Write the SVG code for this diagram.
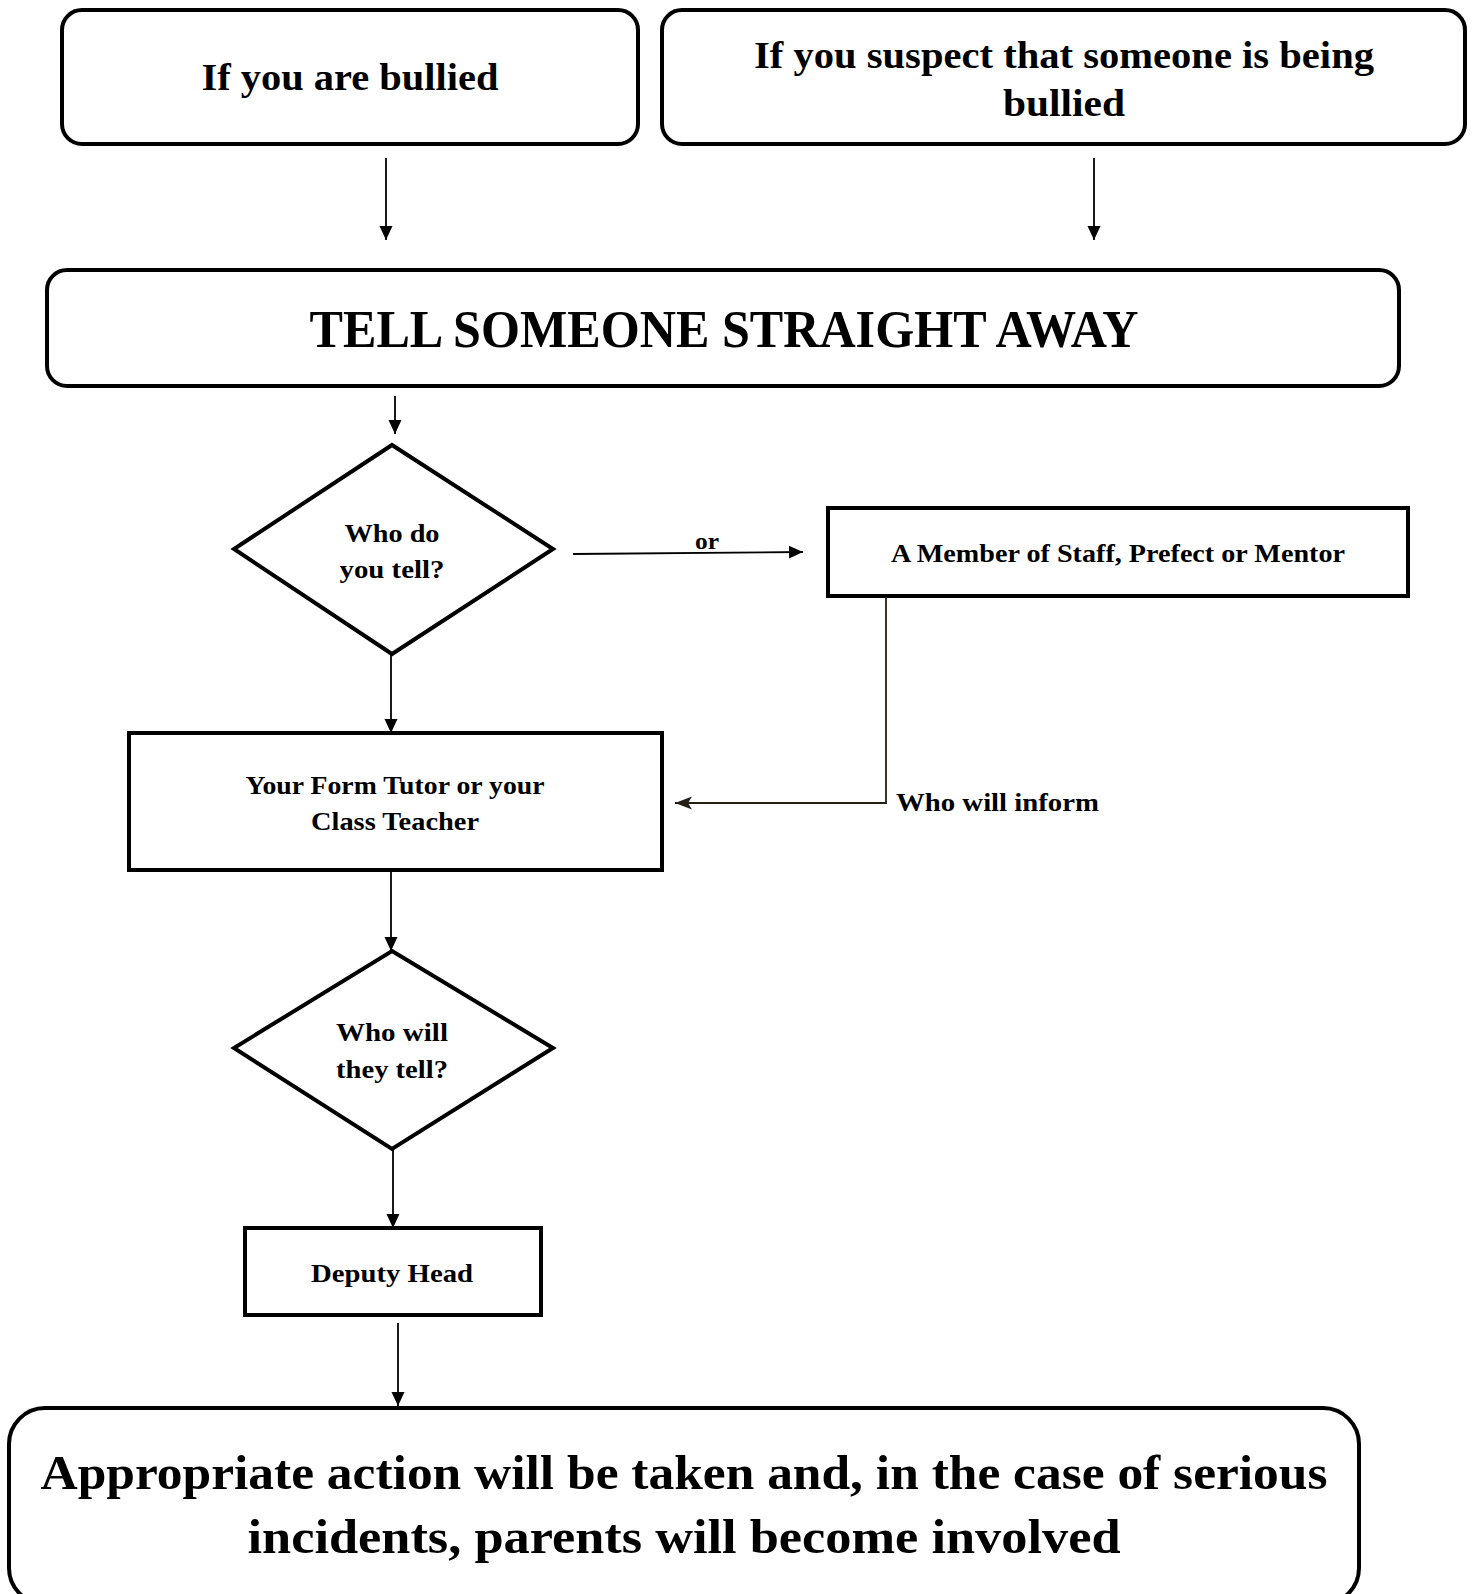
<svg xmlns="http://www.w3.org/2000/svg" width="1475" height="1594" viewBox="0 0 1475 1594">
<style>
.box{fill:#fff;stroke:#000;stroke-width:4}
.dia{fill:#fff;stroke:#000;stroke-width:4;stroke-linejoin:miter}
.t{font-family:"Liberation Serif","Times New Roman",serif;font-weight:bold;fill:#000;text-anchor:middle}
.c{fill:none;stroke:#000;stroke-width:1.8}
.c2{fill:none;stroke:#231f14;stroke-width:1.8}
</style>
<defs>
<marker id="ah" markerUnits="userSpaceOnUse" markerWidth="14" markerHeight="14" refX="14" refY="7" orient="auto">
<path d="M0,0.5 L14,7 L0,13.5 z" fill="#000"/>
</marker>
<marker id="ah2" markerUnits="userSpaceOnUse" markerWidth="17" markerHeight="14" refX="17" refY="7" orient="auto">
<path d="M0,0.5 L17,7 L0,13.5 L4,7 z" fill="#231f14"/>
</marker>
</defs>

<g id="n_bullied">
<rect class="box" x="62" y="10" width="576" height="134" rx="20"/>
<text class="t" x="350" y="90" font-size="38" textLength="297" lengthAdjust="spacingAndGlyphs">If you are bullied</text>
</g>
<g id="n_suspect">
<rect class="box" x="662" y="10" width="803" height="134" rx="20"/>
<text class="t" x="1064" y="68" font-size="38" textLength="620" lengthAdjust="spacingAndGlyphs">If you suspect that someone is being</text>
<text class="t" x="1064" y="116" font-size="38" textLength="122" lengthAdjust="spacingAndGlyphs">bullied</text>
</g>
<g id="n_tell">
<rect class="box" x="47" y="270" width="1352" height="116" rx="20"/>
<text class="t" x="724" y="347" font-size="52" textLength="829" lengthAdjust="spacingAndGlyphs">TELL SOMEONE STRAIGHT AWAY</text>
</g>
<g id="n_who_do">
<polygon class="dia" points="392,445 553,549 392,654 234,549"/>
<text class="t" x="392" y="542" font-size="26" textLength="95" lengthAdjust="spacingAndGlyphs">Who do</text>
<text class="t" x="392" y="578" font-size="26" textLength="105" lengthAdjust="spacingAndGlyphs">you tell?</text>
</g>
<g id="n_member">
<rect class="box" x="828" y="508" width="580" height="88"/>
<text class="t" x="1118" y="562" font-size="26" textLength="454" lengthAdjust="spacingAndGlyphs">A Member of Staff, Prefect or Mentor</text>
</g>
<g id="n_form_tutor">
<rect class="box" x="129" y="733" width="533" height="137"/>
<text class="t" x="395" y="794" font-size="26" textLength="299" lengthAdjust="spacingAndGlyphs">Your Form Tutor or your</text>
<text class="t" x="395" y="830" font-size="26" textLength="168" lengthAdjust="spacingAndGlyphs">Class Teacher</text>
</g>
<g id="n_who_will">
<polygon class="dia" points="392,951 553,1048 392,1149 234,1048"/>
<text class="t" x="392" y="1041" font-size="26" textLength="112" lengthAdjust="spacingAndGlyphs">Who will</text>
<text class="t" x="392" y="1078" font-size="26" textLength="112" lengthAdjust="spacingAndGlyphs">they tell?</text>
</g>
<g id="n_deputy">
<rect class="box" x="245" y="1228" width="296" height="87"/>
<text class="t" x="392" y="1282" font-size="26" textLength="162" lengthAdjust="spacingAndGlyphs">Deputy Head</text>
</g>
<g id="n_action">
<rect class="box" x="9" y="1408" width="1350" height="196" rx="36"/>
<text class="t" x="684" y="1489" font-size="48" textLength="1287" lengthAdjust="spacingAndGlyphs">Appropriate action will be taken and, in the case of serious</text>
<text class="t" x="684" y="1553" font-size="48" textLength="873" lengthAdjust="spacingAndGlyphs">incidents, parents will become involved</text>
</g>

<g id="connectors">
<line class="c" x1="386" y1="158" x2="386" y2="240" marker-end="url(#ah)"/>
<line class="c" x1="1094" y1="158" x2="1094" y2="240" marker-end="url(#ah)"/>
<line class="c" x1="395" y1="396" x2="395" y2="434" marker-end="url(#ah)"/>
<line class="c" x1="573" y1="554" x2="803" y2="552" marker-end="url(#ah)"/>
<text class="t" x="707" y="549" font-size="24" textLength="24" lengthAdjust="spacingAndGlyphs">or</text>
<line class="c" x1="391" y1="654" x2="391" y2="733" marker-end="url(#ah)"/>
<polyline class="c2" points="886,597 886,803 675,803" marker-end="url(#ah2)"/>
<text class="t" x="896" y="811" font-size="26" style="text-anchor:start" textLength="203" lengthAdjust="spacingAndGlyphs">Who will inform</text>
<line class="c" x1="391" y1="870" x2="391" y2="951" marker-end="url(#ah)"/>
<line class="c" x1="393" y1="1149" x2="393" y2="1228" marker-end="url(#ah)"/>
<line class="c" x1="398" y1="1323" x2="398" y2="1406" marker-end="url(#ah)"/>
</g>
</svg>
